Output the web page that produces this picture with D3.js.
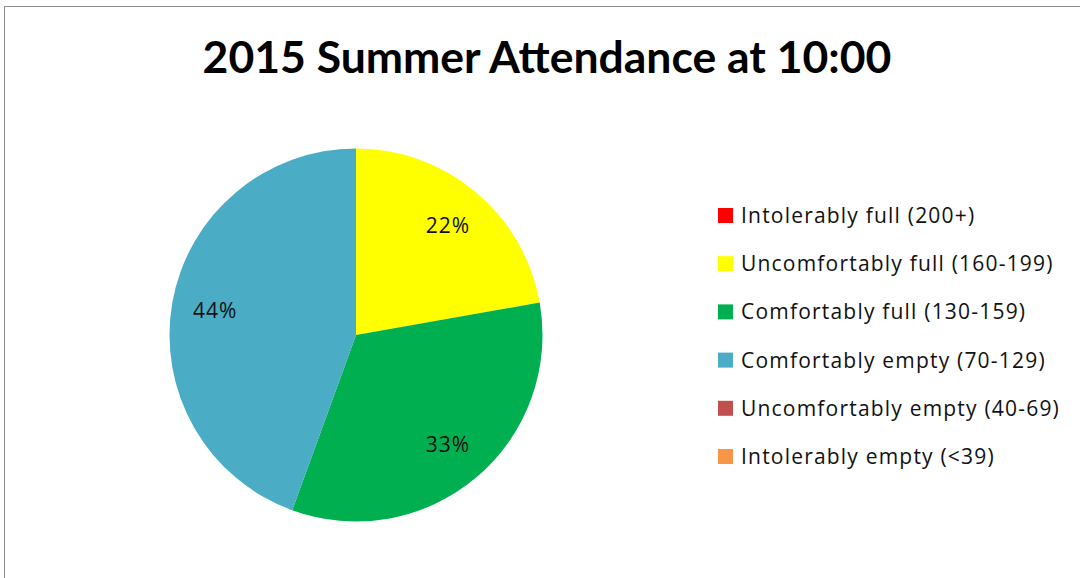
<!DOCTYPE html>
<html><head><meta charset="utf-8">
<script src="https://cdn.jsdelivr.net/npm/d3@7"></script>
<style>html,body{margin:0;padding:0;background:#fff;overflow:hidden}</style>
</head><body>
<svg id="c" width="1080" height="578"></svg>
<script>
const title = "2015 Summer Attendance at 10:00";
const categories = ["Intolerably full (200+)","Uncomfortably full (160-199)","Comfortably full (130-159)","Comfortably empty (70-129)","Uncomfortably empty (40-69)","Intolerably empty (<39)"];
const values = [0, 22, 33, 44, 0, 0];
const colors = ["#FF0000","#FFFF00","#00B050","#4BACC6","#C0504D","#F79646"];

const svg = d3.select("#c");
svg.append("rect").attr("x",4.5).attr("y",6.5).attr("width",1100).attr("height",600)
  .attr("fill","#fff").attr("stroke","#8c8c8c").attr("stroke-width",1);

svg.append("text").attr("x",547).attr("y",73).attr("text-anchor","middle")
  .attr("font-family","Lato, 'Open Sans', sans-serif").attr("font-weight","bold")
  .attr("font-size",44.5).attr("fill","#000").text(title);

const cx = 356, cy = 335, R = 186.5;
const total = d3.sum(values);
const color = d3.scaleOrdinal().domain(categories).range(colors);
const pie = d3.pie().sort(null).value(d => d.v);
const arcs = pie(categories.map((c,i)=>({c, v: values[i]})));
const arc = d3.arc().innerRadius(0).outerRadius(R);
const labelArc = d3.arc().innerRadius(143).outerRadius(143);
const g = svg.append("g").attr("transform",`translate(${cx},${cy})`);
g.selectAll("path").data(arcs.filter(a=>a.data.v>0)).enter().append("path")
  .attr("d",arc).attr("fill",d=>color(d.data.c)).attr("stroke","none");
g.selectAll("text").data(arcs.filter(a=>a.data.v>0)).enter().append("text")
  .attr("transform",d=>`translate(${labelArc.centroid(d)})`)
  .attr("text-anchor","middle").attr("dy","0.35em")
  .attr("font-family","'Open Sans', sans-serif").attr("font-size",21).attr("letter-spacing",1).attr("fill","#111")
  .text(d=>d3.format(".0%")(d.data.v/total));

const y = d3.scalePoint().domain(categories).range([215,456]);
const lg = svg.append("g");
const items = lg.selectAll("g").data(categories).enter().append("g")
  .attr("transform",d=>`translate(718,${y(d)})`);
items.append("rect").attr("x",0).attr("y",-7).attr("width",15).attr("height",15).attr("fill",d=>color(d));
items.append("text").attr("x",23).attr("dy","0.38em")
  .attr("font-family","'Open Sans', sans-serif").attr("font-size",21).attr("letter-spacing",1.2).attr("fill","#111")
  .text(d=>d);
</script>
</body></html>
